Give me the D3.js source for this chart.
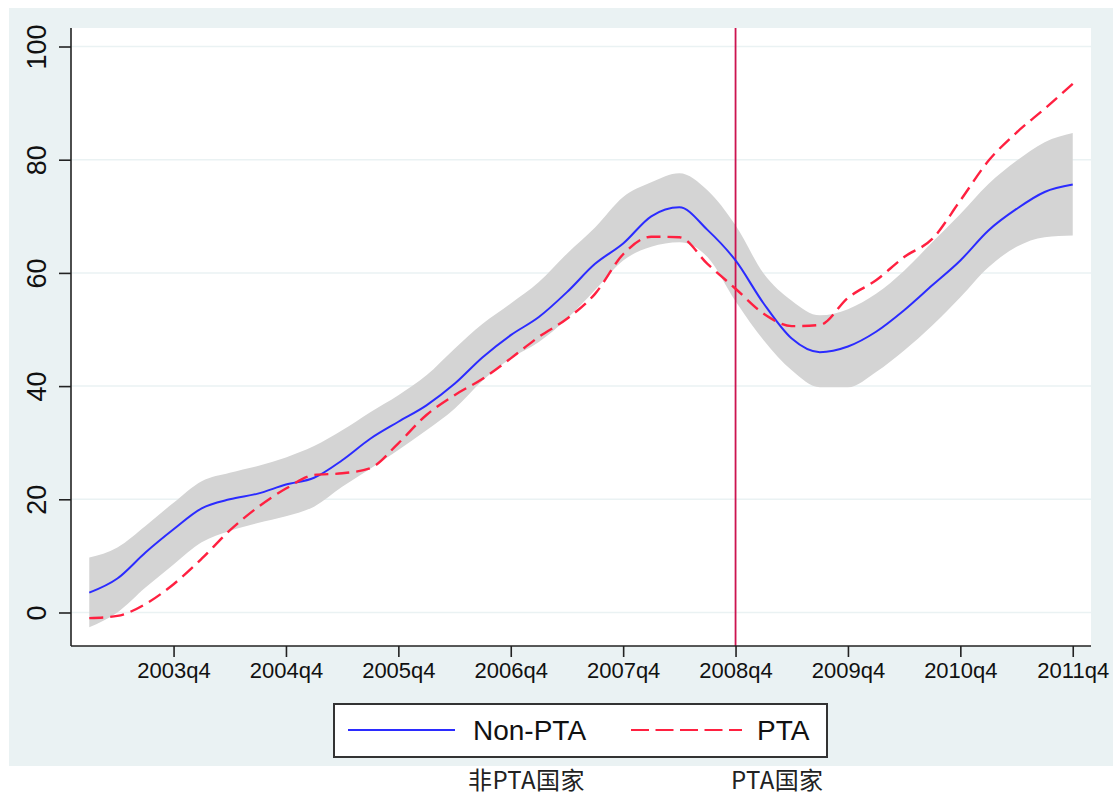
<!DOCTYPE html>
<html>
<head>
<meta charset="utf-8">
<script src="https://cdn.jsdelivr.net/npm/d3@7/dist/d3.min.js"></script>
<style>
  html, body { margin: 0; padding: 0; background: #ffffff; }
  svg { display: block; }
</style>
</head>
<body>
<script>
// ---------------- data ----------------
const quarters = ["2003q1","2003q2","2003q3","2003q4","2004q1","2004q2","2004q3","2004q4",
  "2005q1","2005q2","2005q3","2005q4","2006q1","2006q2","2006q3","2006q4",
  "2007q1","2007q2","2007q3","2007q4","2008q1","2008q2","2008q3","2008q4",
  "2009q1","2009q2","2009q3","2009q4","2010q1","2010q2","2010q3","2010q4",
  "2011q1","2011q2","2011q3","2011q4"];
const nonPTA = [3.5, 6.0, 10.6, 14.7, 18.4, 20.0, 21.0, 22.6, 23.8, 26.9, 30.7, 33.7,
  36.6, 40.4, 45.1, 49.0, 52.2, 56.6, 61.6, 65.2, 70.0, 71.6, 67.6, 62.2,
  54.6, 48.4, 46.0, 47.0, 49.6, 53.4, 57.8, 62.2, 67.5, 71.3, 74.3, 75.6];
const PTA = [-1.0, -0.6, 1.5, 5.0, 9.5, 14.5, 18.6, 21.9, 24.3, 24.6, 25.5, 29.9,
  34.9, 38.4, 41.3, 44.9, 48.7, 51.9, 56.3, 63.3, 66.4, 66.3, 61.6, 57.2,
  52.8, 50.6, 50.8, 55.6, 58.7, 62.8, 66.0, 72.8, 79.8, 84.8, 89.0, 93.4];
const ciUpper = [9.7, 11.5, 15.3, 19.4, 23.2, 24.7, 25.9, 27.4, 29.4, 32.2, 35.4, 38.4,
  41.9, 46.6, 51.0, 54.6, 58.4, 63.4, 68.0, 73.4, 76.0, 77.6, 74.6, 68.4,
  59.9, 55.1, 52.5, 53.6, 56.3, 60.4, 65.4, 70.4, 75.7, 79.8, 83.1, 84.7];
const ciLower = [-2.6, 0.0, 4.4, 8.5, 12.4, 14.4, 15.8, 17.0, 18.7, 22.2, 25.4, 28.7,
  32.2, 36.0, 41.0, 44.9, 47.8, 51.9, 57.0, 62.2, 64.6, 65.4, 62.8, 55.0,
  48.1, 42.8, 39.8, 39.8, 42.5, 46.3, 50.7, 55.7, 61.0, 64.6, 66.3, 66.6];
const xTickLabels = ["2003q4","2004q4","2005q4","2006q4","2007q4","2008q4","2009q4","2010q4","2011q4"];
const yTicks = [0, 20, 40, 60, 80, 100];
const eventQuarter = "2008q4";
const seriesNames = ["Non-PTA", "PTA"];
const footLabels = ["非PTA国家", "PTA国家"];

// ---------------- layout ----------------
const W = 1113, H = 796;
const plot = { left: 71, right: 1091, top: 28, bottom: 646 };
const bgColor = "#eaf2f3";
const blue = "#2b2bff";
const red = "#ff2040";
const latin = "'Liberation Sans', Arial, sans-serif";
const curve = d3.curveMonotoneX;

const svg = d3.select("body").append("svg").attr("width", W).attr("height", H);

svg.append("rect").attr("x", 9).attr("y", 8).attr("width", W - 9).attr("height", 758).attr("fill", bgColor);
svg.append("rect").attr("x", plot.left).attr("y", plot.top)
  .attr("width", plot.right - plot.left).attr("height", plot.bottom - plot.top).attr("fill", "#ffffff");

const x = d3.scaleLinear().domain([-0.65, quarters.length - 1 + 0.65]).range([plot.left, plot.right]);
const y = d3.scaleLinear().domain([-5.92, 103.27]).range([plot.bottom, plot.top]);

// grid
svg.append("g").selectAll("line").data(yTicks).join("line")
  .attr("x1", plot.left).attr("x2", plot.right)
  .attr("y1", d => y(d)).attr("y2", d => y(d))
  .attr("stroke", bgColor).attr("stroke-width", 1.5);

const idx = d3.range(quarters.length);

// band
svg.append("path").datum(idx)
  .attr("d", d3.area().curve(curve).x(i => x(i)).y0(i => y(ciLower[i])).y1(i => y(ciUpper[i])))
  .attr("fill", "#d4d4d4");

// event line
const ev = quarters.indexOf(eventQuarter);
svg.append("line").attr("x1", x(ev)).attr("x2", x(ev)).attr("y1", plot.top).attr("y2", plot.bottom)
  .attr("stroke", "#cc1450").attr("stroke-width", 1.8);

// lines
svg.append("path").datum(idx)
  .attr("d", d3.line().curve(curve).x(i => x(i)).y(i => y(nonPTA[i])))
  .attr("fill", "none").attr("stroke", blue).attr("stroke-width", 2);
svg.append("path").datum(idx)
  .attr("d", d3.line().curve(curve).x(i => x(i)).y(i => y(PTA[i])))
  .attr("fill", "none").attr("stroke", red).attr("stroke-width", 2.4)
  .attr("stroke-dasharray", "14,7");

// y axis
const yAxis = svg.append("g").attr("transform", `translate(${plot.left},0)`)
  .call(d3.axisLeft(y).tickValues(yTicks).tickSize(12).tickPadding(0));
yAxis.select(".domain").attr("d", `M0,${plot.top}V${plot.bottom}`).attr("stroke", "#222").attr("stroke-width", 1.6);
yAxis.selectAll(".tick line").attr("stroke", "#222").attr("stroke-width", 1.6);
yAxis.selectAll(".tick text")
  .attr("x", -25).attr("y", 0).attr("dy", 0)
  .attr("text-anchor", "middle")
  .attr("transform", "rotate(-90,-25,0)")
  .style("font-family", latin).style("font-size", "27px").attr("fill", "#111");

// x axis
const tickIdx = xTickLabels.map(l => quarters.indexOf(l));
const xAxis = svg.append("g").attr("transform", `translate(0,${plot.bottom})`)
  .call(d3.axisBottom(x).tickValues(tickIdx).tickFormat(i => quarters[i]).tickSize(11).tickPadding(0));
xAxis.select(".domain").attr("d", `M${plot.left},0H${plot.right}`).attr("stroke", "#222").attr("stroke-width", 1.6);
xAxis.selectAll(".tick line").attr("stroke", "#222").attr("stroke-width", 1.6);
xAxis.selectAll(".tick text").attr("y", 32).attr("dy", 0)
  .style("font-family", latin).style("font-size", "22px").attr("fill", "#111");

// legend
const lg = svg.append("g");
lg.append("rect").attr("x", 334).attr("y", 704).attr("width", 493).attr("height", 53)
  .attr("fill", "#fff").attr("stroke", "#333").attr("stroke-width", 2);
lg.append("line").attr("x1", 348).attr("x2", 455).attr("y1", 730).attr("y2", 730)
  .attr("stroke", blue).attr("stroke-width", 2);
lg.append("text").attr("x", 473).attr("y", 740).text(seriesNames[0])
  .style("font-family", latin).style("font-size", "28px").attr("fill", "#111");
lg.append("line").attr("x1", 631).attr("x2", 742).attr("y1", 730).attr("y2", 730)
  .attr("stroke", red).attr("stroke-width", 2.2).attr("stroke-dasharray", "18,6.5");
lg.append("text").attr("x", 757).attr("y", 740).text(seriesNames[1])
  .style("font-family", latin).style("font-size", "28px").attr("fill", "#111");

// footer labels
svg.append("text").attr("x", 468).attr("y", 789).text(footLabels[0])
  .style("font-family", "'Noto Sans CJK SC', sans-serif").style("font-size", "24px")
  .style("letter-spacing", "0.4px").attr("fill", "#222");
svg.append("text").attr("x", 731).attr("y", 789).text(footLabels[1])
  .style("font-family", "'Noto Sans CJK SC', sans-serif").style("font-size", "24px")
  .style("letter-spacing", "0.4px").attr("fill", "#222");
</script>
</body>
</html>
